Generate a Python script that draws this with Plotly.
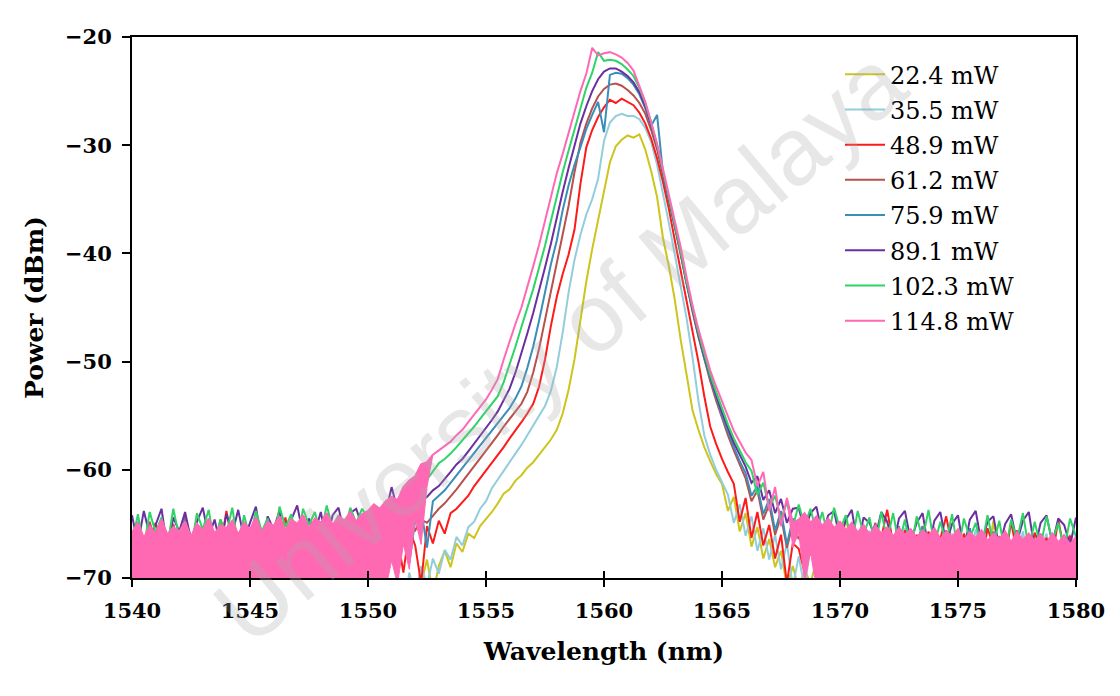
import plotly.graph_objects as go

# ---------------- data ----------------
X_RANGE = [1540, 1580]
Y_RANGE = [-70, -20]
X_TICKS = [1540, 1545, 1550, 1555, 1560, 1565, 1570, 1575, 1580]
Y_TICKS = [-70, -60, -50, -40, -30, -20]

STEP = 0.25            # nm between samples
LEFT_START = 1540.0    # left noise floor: 1540.00 .. 1549.75
CORE_START = 1550.0    # spectrum core:    1550.00 .. 1568.00
RIGHT_START = 1568.25  # right noise floor: 1568.25 .. 1580.00

LABELS = ["22.4 mW", "35.5 mW", "48.9 mW", "61.2 mW",
          "75.9 mW", "89.1 mW", "102.3 mW", "114.8 mW"]

# 22.4 mW
Y224_LEFT = [-71.8, -69.5, -72.6, -70.1, -68.8, -71.9, -69.7, -73.0,
             -70.4, -68.9, -72.2, -69.6, -71.0, -73.4, -69.9, -70.8,
             -72.5, -69.3, -71.6, -70.2, -73.1, -69.4, -71.3, -72.7,
             -69.8, -70.6, -72.9, -69.5, -71.7, -70.0, -73.3, -69.6,
             -71.2, -72.4, -69.9, -70.7, -73.0, -69.7, -71.5, -72.1]
Y224_CORE = [-73.0, -71.5, -74.0, -71.0,
             -73.5, -72.0, -74.2, -71.2,
             -72.8, -70.6, -68.3, -71.4,
             -68.9, -67.5, -69.0, -66.8,
             -67.6, -65.9, -66.3, -65.2,
             -64.6, -63.9, -63.1, -62.2,
             -61.8, -61.0, -60.5, -59.8,
             -59.3, -58.6, -58.0, -57.2,
             -56.3, -54.8, -52.6, -49.8,
             -46.2, -42.6, -39.6, -36.9,
             -34.0, -31.6, -30.1, -29.5,
             -29.1, -29.3, -29.0, -30.4,
             -32.4, -34.8, -38.6, -41.2,
             -44.3, -48.0, -51.2, -54.5,
             -56.3, -57.9, -59.2, -60.4,
             -61.3, -63.8, -62.5, -65.7,
             -64.0, -67.1, -65.3, -68.2,
             -66.4, -69.0, -67.5, -70.8,
             -68.9]
Y224_RIGHT = [-71.0, -69.2, -70.5, -68.4, -67.6, -69.8, -66.9, -68.7,
              -64.2, -67.9, -69.4, -67.2, -68.8, -66.7, -69.6, -67.4,
              -68.5, -66.9, -69.9, -67.6, -68.9, -67.0, -69.3, -67.8,
              -68.2, -66.8, -69.7, -67.3, -68.6, -67.1, -69.5, -66.6,
              -68.3, -64.7, -69.2, -67.5, -68.7, -66.9, -69.8, -67.2,
              -68.4, -67.0, -69.4, -67.7, -68.1, -66.8, -69.6, -67.4]

# 35.5 mW
Y355_LEFT = [-70.6, -68.2, -71.9, -68.9, -67.5, -70.8, -68.4, -72.0,
             -69.1, -67.8, -71.3, -68.6, -69.9, -72.4, -68.3, -69.6,
             -71.5, -67.9, -70.4, -69.0, -72.1, -68.1, -70.2, -71.6,
             -68.7, -69.4, -71.8, -68.0, -70.6, -69.2, -72.3, -68.5,
             -70.0, -71.4, -68.8, -69.7, -72.0, -68.4, -70.3, -71.1]
Y355_CORE = [-72.5, -70.8, -73.6, -70.4,
             -72.1, -69.8, -72.9, -69.5,
             -71.6, -68.9, -70.7, -68.2,
             -69.6, -67.4, -68.3, -66.2,
             -67.0, -65.3, -64.8, -63.6,
             -62.9, -61.7, -60.9, -60.1,
             -59.4, -58.6, -57.7, -56.8,
             -55.9, -55.0, -54.1, -52.7,
             -50.5, -47.3, -43.6, -40.6,
             -38.3, -36.4, -35.0, -33.1,
             -29.6, -27.9, -27.3, -27.1,
             -27.3, -27.3, -27.6, -28.4,
             -29.7, -31.8, -34.4, -37.2,
             -40.1, -43.0, -46.0, -49.6,
             -53.6, -56.8, -58.6, -60.0,
             -61.1, -62.3, -64.9, -63.2,
             -66.1, -64.3, -67.5, -65.4,
             -68.3, -66.0, -69.2, -66.8,
             -70.8]
Y355_RIGHT = [-68.0, -70.9, -67.1, -69.5, -66.6, -68.7, -65.9, -68.1,
              -66.8, -68.5, -66.2, -67.9, -65.6, -68.3, -66.5, -68.8,
              -66.0, -67.7, -65.4, -68.6, -66.7, -68.2, -65.8, -69.0,
              -66.3, -67.6, -65.9, -68.4, -66.9, -68.0, -65.5, -68.9,
              -66.4, -67.8, -66.1, -69.1, -66.6, -68.3, -65.7, -68.7,
              -66.2, -67.5, -65.9, -68.6, -66.8, -68.1, -66.0, -68.5]

# 48.9 mW
Y489_LEFT = [-67.9, -65.8, -68.7, -66.4, -64.9, -67.6, -66.1, -69.2,
             -65.5, -67.0, -68.4, -65.2, -66.8, -69.0, -65.9, -67.3,
             -63.8, -66.6, -68.5, -65.7, -67.2, -69.4, -66.0, -65.3,
             -68.1, -66.9, -64.4, -67.7, -69.1, -65.8, -66.7, -68.3,
             -65.1, -67.4, -69.6, -66.2, -65.0, -68.0, -66.5, -67.1]
Y489_CORE = [-67.8, -66.5, -68.9, -65.9,
             -67.6, -66.2, -69.5, -65.5,
             -67.0, -70.5, -65.2, -66.8,
             -64.7, -65.9, -64.0, -63.6,
             -63.0, -62.4, -61.5, -60.8,
             -60.0, -59.3, -58.6, -57.9,
             -57.1, -56.4, -55.6, -54.8,
             -53.9, -52.3, -49.8, -46.7,
             -44.0, -41.9, -40.1, -37.8,
             -33.6, -30.2, -28.6, -27.4,
             -26.5, -25.8, -26.1, -25.7,
             -26.0, -26.3, -27.0, -28.0,
             -29.4, -31.2, -33.4, -35.9,
             -38.8, -41.6, -44.3, -46.9,
             -50.0, -53.2, -56.0, -57.6,
             -59.0, -60.2, -61.3, -64.8,
             -62.6, -66.3, -63.9, -67.0,
             -65.1, -68.2, -66.0, -70.5,
             -66.8]
Y489_RIGHT = [-67.3, -69.5, -66.2, -68.6, -65.8, -67.9, -66.4, -68.8,
              -65.5, -67.4, -66.1, -68.2, -65.9, -67.6, -66.3, -63.7,
              -66.8, -68.1, -65.6, -67.5, -66.0, -68.4, -65.7, -67.8,
              -66.4, -64.3, -67.1, -68.6, -65.9, -67.3, -66.6, -68.9,
              -65.4, -67.0, -66.2, -68.3, -64.8, -67.7, -66.5, -68.7,
              -65.8, -67.2, -66.3, -68.0, -64.6, -67.5, -66.1, -68.4]

# 61.2 mW
Y612_LEFT = [-67.2, -65.4, -68.1, -64.8, -66.9, -65.7, -68.5, -65.0,
             -67.4, -64.3, -66.6, -65.9, -68.2, -65.1, -67.0, -64.6,
             -66.3, -65.8, -68.7, -65.3, -67.5, -64.9, -66.8, -65.6,
             -68.0, -65.2, -67.3, -64.7, -66.5, -66.0, -68.4, -65.4,
             -67.1, -64.5, -66.9, -65.7, -68.6, -65.0, -67.8, -65.5]
Y612_CORE = [-67.5, -65.9, -67.0, -65.6,
             -66.8, -65.2, -66.4, -64.9,
             -65.6, -64.6, -64.9, -64.2,
             -63.6, -63.1, -62.5, -61.8,
             -61.1, -60.4, -59.7, -59.0,
             -58.3, -57.5, -56.8, -56.0,
             -55.3, -54.6, -53.9, -52.8,
             -51.0, -48.8, -46.2, -43.6,
             -41.0, -38.5, -35.6, -32.5,
             -29.8, -28.0, -26.6, -25.5,
             -24.8, -24.4, -24.3, -24.5,
             -24.9, -25.4, -26.1, -27.1,
             -28.6, -30.4, -32.6, -35.0,
             -37.5, -40.1, -42.9, -45.4,
             -47.7, -49.8, -51.8, -53.6,
             -55.3, -56.8, -58.2, -59.5,
             -60.8, -62.9, -61.9, -64.6,
             -63.2, -66.0, -64.3, -67.2,
             -65.0]
Y612_RIGHT = [-66.4, -65.0, -67.9, -65.6, -66.8, -64.7, -68.2, -65.9,
              -67.1, -65.3, -68.6, -65.8, -66.7, -64.9, -68.0, -66.1,
              -67.4, -65.5, -68.8, -66.0, -67.0, -65.2, -68.4, -66.3,
              -67.6, -65.7, -69.0, -66.2, -67.2, -65.4, -68.5, -66.4,
              -67.8, -65.9, -69.1, -66.5, -67.3, -65.6, -68.7, -66.6,
              -67.9, -66.0, -69.2, -66.7, -67.5, -66.1, -68.9, -66.8]

# 75.9 mW
Y759_LEFT = [-66.5, -64.8, -67.3, -65.6, -68.0, -64.9, -66.7, -65.3,
             -67.9, -64.6, -66.2, -65.8, -68.3, -64.7, -66.9, -65.1,
             -67.5, -64.9, -66.4, -65.7, -68.1, -64.5, -66.6, -65.2,
             -67.7, -64.8, -66.0, -65.5, -68.4, -64.4, -66.3, -65.0,
             -67.6, -64.6, -66.8, -65.3, -69.0, -64.7, -67.9, -65.4]
Y759_CORE = [-66.0, -65.2, -66.5, -64.8,
             -65.9, -64.6, -65.4, -68.6,
             -64.7, -63.6, -67.2, -62.9,
             -62.4, -61.9, -61.2, -60.5,
             -59.9, -59.2, -58.5, -57.8,
             -57.1, -56.4, -55.7, -55.0,
             -54.3, -53.4, -52.3, -50.6,
             -48.6, -46.2, -43.5, -41.0,
             -38.8, -36.0, -33.7, -31.8,
             -30.2, -28.5, -27.2, -26.0,
             -28.8, -23.5, -23.3, -23.4,
             -23.8, -24.4, -25.3, -26.6,
             -28.2, -27.2, -32.6, -35.0,
             -37.4, -40.0, -42.8, -45.3,
             -47.6, -49.7, -51.6, -53.3,
             -55.0, -56.5, -57.9, -59.2,
             -60.3, -62.4, -61.5, -64.1,
             -62.7, -65.6, -63.8, -66.9,
             -64.5]
Y759_RIGHT = [-65.6, -64.5, -67.8, -65.0, -66.2, -64.8, -68.3, -65.4,
              -66.9, -64.9, -67.5, -65.8, -66.3, -65.1, -68.0, -65.5,
              -67.0, -65.2, -68.4, -65.9, -66.6, -65.3, -67.9, -66.0,
              -67.2, -65.6, -68.6, -66.1, -67.0, -65.4, -68.2, -65.9,
              -67.4, -65.7, -68.8, -66.2, -67.1, -65.8, -68.5, -66.3,
              -67.6, -65.9, -68.9, -66.4, -67.3, -66.0, -68.7, -66.5]

# 89.1 mW
Y891_LEFT = [-64.2, -66.9, -63.8, -66.0, -65.1, -63.6, -67.3, -64.4,
             -65.7, -63.9, -66.5, -64.8, -63.5, -66.2, -64.6, -67.0,
             -64.1, -65.9, -63.7, -66.4, -64.9, -63.4, -66.8, -64.3,
             -65.5, -63.8, -67.1, -64.6, -63.3, -66.0, -64.5, -65.8,
             -63.9, -66.7, -64.2, -63.5, -65.9, -64.0, -63.6, -65.2]
Y891_CORE = [-65.0, -64.3, -65.2, -64.0,
             -61.6, -63.7, -64.2, -63.4,
             -63.5, -62.8, -62.5, -61.9,
             -61.5, -60.9, -60.2, -59.5,
             -59.0, -58.3, -57.6, -56.9,
             -56.1, -55.4, -54.6, -53.6,
             -52.5, -51.0, -49.3, -47.4,
             -45.5, -43.5, -41.3, -39.1,
             -36.6, -34.3, -32.1, -30.0,
             -28.0, -26.4, -25.0, -23.9,
             -23.2, -22.9, -22.9, -23.2,
             -23.6, -24.2, -25.1, -26.4,
             -28.1, -30.1, -32.5, -34.9,
             -37.3, -39.9, -42.7, -45.2,
             -47.5, -49.5, -51.4, -53.1,
             -54.7, -56.1, -57.5, -58.6,
             -59.7, -61.2, -60.6, -62.8,
             -61.9, -64.0, -62.7, -64.9,
             -63.6]
Y891_RIGHT = [-63.5, -65.6, -64.0, -63.4, -66.0, -64.2, -63.8, -66.5,
              -64.6, -63.7, -67.0, -64.4, -64.9, -66.2, -63.9, -64.8,
              -67.1, -64.5, -63.8, -66.6, -64.9, -64.0, -67.3, -64.7,
              -63.9, -66.8, -65.0, -64.2, -67.5, -64.6, -63.8, -66.9,
              -64.8, -64.3, -67.2, -65.0, -64.1, -66.7, -64.7, -63.9,
              -67.4, -64.9, -64.2, -66.8, -64.5, -65.1, -67.0, -64.4]

# 102.3 mW
Y1023_LEFT = [-66.8, -64.1, -67.2, -63.9, -65.8, -64.4, -67.0, -63.6,
              -66.2, -64.8, -67.4, -64.0, -65.5, -63.7, -66.9, -64.6,
              -65.9, -63.5, -67.1, -64.2, -66.4, -63.8, -65.7, -64.5,
              -66.8, -63.4, -65.3, -64.1, -66.6, -63.6, -65.1, -63.9,
              -66.0, -63.3, -65.4, -64.2, -65.8, -63.5, -64.9, -63.6]
Y1023_CORE = [-64.5, -63.6, -64.2, -63.3,
              -63.9, -63.0, -62.8, -62.4,
              -61.9, -61.3, -60.9, -60.1,
              -59.4, -59.0, -58.5, -57.9,
              -57.3, -56.7, -56.0, -55.3,
              -54.6, -53.9, -53.2, -51.9,
              -50.3, -48.6, -46.8, -45.1,
              -43.3, -41.3, -39.3, -37.0,
              -34.6, -32.5, -30.5, -28.5,
              -26.5, -24.7, -23.3, -21.4,
              -22.2, -22.1, -22.2, -22.5,
              -23.0, -23.6, -24.7, -26.1,
              -27.9, -30.0, -32.4, -34.8,
              -37.2, -39.8, -42.6, -45.1,
              -47.3, -49.3, -51.2, -52.8,
              -54.4, -55.8, -57.1, -58.2,
              -59.3, -60.1, -62.3, -61.2,
              -63.5, -62.4, -64.6, -63.0,
              -65.3]
Y1023_RIGHT = [-63.2, -65.1, -63.6, -65.8, -63.9, -66.2, -63.5, -65.5,
               -64.2, -66.8, -63.8, -66.0, -64.4, -67.2, -63.9, -66.5,
               -64.0, -66.9, -64.6, -67.5, -64.3, -66.4, -63.7, -67.0,
               -64.8, -66.7, -64.1, -67.6, -64.5, -66.3, -64.9, -67.2,
               -64.2, -66.9, -64.7, -67.8, -64.6, -66.5, -64.0, -67.3,
               -64.8, -67.1, -64.3, -66.6, -64.9, -67.4, -64.5, -66.2]

# 114.8 mW
Y1148_LEFT = [-65.8, -64.9, -66.3, -65.2, -65.9, -64.6, -66.0, -65.3,
              -65.7, -64.8, -66.2, -65.0, -65.6, -64.5, -65.9, -65.1,
              -65.4, -64.7, -66.0, -64.9, -65.5, -64.4, -65.8, -64.8,
              -65.2, -64.3, -65.6, -64.6, -65.0, -64.2, -65.4, -64.5,
              -64.9, -64.0, -65.1, -64.3, -64.7, -63.9, -64.8, -64.1]
Y1148_CORE = [-63.8, -63.2, -63.6, -62.9,
              -62.5, -62.8, -61.6, -61.0,
              -60.6, -59.5, -59.3, -58.6,
              -58.2, -57.8, -57.4, -56.8,
              -56.3, -55.6, -54.9, -54.1,
              -53.5, -52.6, -51.6, -49.8,
              -48.1, -46.5, -45.0, -43.2,
              -41.2, -39.2, -37.0, -34.7,
              -32.6, -30.8, -28.9, -26.8,
              -25.0, -23.4, -21.0, -21.7,
              -21.5, -21.4, -21.6, -21.9,
              -22.4, -23.1, -24.5, -26.0,
              -27.9, -29.9, -32.2, -34.6,
              -36.9, -39.4, -42.2, -44.8,
              -47.0, -48.9, -50.8, -52.3,
              -53.7, -55.1, -56.4, -57.4,
              -58.4, -59.1, -61.5, -60.2,
              -63.8, -61.6, -65.2, -62.6,
              -64.9]
Y1148_RIGHT = [-64.6, -64.0, -64.9, -64.3, -65.2, -64.5, -65.4, -64.8,
               -65.6, -64.9, -65.8, -65.1, -66.0, -65.2, -65.9, -65.3,
               -66.2, -65.4, -66.0, -65.5, -66.3, -65.6, -66.1, -65.4,
               -66.4, -65.7, -66.2, -65.5, -66.5, -65.8, -66.3, -65.6,
               -66.6, -65.9, -66.4, -65.7, -66.7, -65.8, -66.5, -65.9,
               -66.6, -66.0, -66.8, -65.9, -66.7, -66.1, -66.9, -66.2]

# lower envelope of the densely sampled 114.8 mW noise floor
# (the trace fills the space between this and its upper envelope)
PINK_LOW_LEFT_X = [1540.0, 1550.75, 1551.0, 1551.25, 1551.5, 1551.75,
                   1552.0, 1552.25, 1552.5, 1552.75]
PINK_LOW_LEFT_Y = [-71.0, -71.0, -68.4, -70.6, -66.9, -69.2,
                   -64.6, -66.9, -61.6, -58.6]
PINK_LOW_RIGHT_X = [1567.75, 1568.0, 1568.25, 1568.5, 1568.75, 1569.0,
                    1569.25, 1580.0]
PINK_LOW_RIGHT_Y = [-62.6, -67.2, -65.8, -70.4, -67.6, -71.0,
                    -71.0, -71.0]

SERIES_LEFT = [Y224_LEFT, Y355_LEFT, Y489_LEFT, Y612_LEFT,
               Y759_LEFT, Y891_LEFT, Y1023_LEFT, Y1148_LEFT]
SERIES_CORE = [Y224_CORE, Y355_CORE, Y489_CORE, Y612_CORE,
               Y759_CORE, Y891_CORE, Y1023_CORE, Y1148_CORE]
SERIES_RIGHT = [Y224_RIGHT, Y355_RIGHT, Y489_RIGHT, Y612_RIGHT,
                Y759_RIGHT, Y891_RIGHT, Y1023_RIGHT, Y1148_RIGHT]

# ---------------- styles ----------------
COLORS = ["#CDC41C", "#92CDDC", "#FF1A1A", "#B8504B",
          "#3A8EB8", "#6A2FA0", "#2FD466", "#FF69B4"]
LINE_W = 2
SERIF = "DejaVu Serif"


def sample_x(start, n):
    return [round(start + STEP * i, 2) for i in range(n)]


def full_series(k):
    xs = (sample_x(LEFT_START, len(SERIES_LEFT[k]))
          + sample_x(CORE_START, len(SERIES_CORE[k]))
          + sample_x(RIGHT_START, len(SERIES_RIGHT[k])))
    ys = SERIES_LEFT[k] + SERIES_CORE[k] + SERIES_RIGHT[k]
    return xs, ys


fig = go.Figure()
last = len(LABELS) - 1
for k, name in enumerate(LABELS):
    xs, ys = full_series(k)
    on_top = (k == last)
    fig.add_trace(go.Scatter(
        x=xs, y=ys, mode="lines", name=name, legendgroup=name,
        line=dict(color=COLORS[k], width=LINE_W),
        xaxis="x2" if on_top else "x",
    ))

# dense noise floor of the strongest trace: band between its envelopes
xs, ys = full_series(last)
for low_x, low_y in ((PINK_LOW_LEFT_X, PINK_LOW_LEFT_Y),
                     (PINK_LOW_RIGHT_X, PINK_LOW_RIGHT_Y)):
    lo, hi = min(low_x), max(low_x)
    ux = [x for x in xs if lo <= x <= hi]
    uy = [y for x, y in zip(xs, ys) if lo <= x <= hi]
    fig.add_trace(go.Scatter(
        x=ux + low_x[::-1], y=uy + low_y[::-1],
        mode="lines", fill="toself", fillcolor=COLORS[last],
        line=dict(color=COLORS[last], width=1),
        showlegend=False, legendgroup=LABELS[last], hoverinfo="skip",
        xaxis="x2",
    ))

tick_font = dict(family=SERIF, size=21, color="black", weight="bold")
title_font = dict(family=SERIF, size=25, color="black", weight="bold")

fig.update_layout(
    width=1120, height=696,
    margin=dict(l=132, r=44, t=37, b=118),
    paper_bgcolor="white", plot_bgcolor="white",
    showlegend=True,
    legend=dict(
        x=0.750, y=0.972, xanchor="left", yanchor="top",
        bgcolor="rgba(0,0,0,0)", borderwidth=0,
        font=dict(family=SERIF, size=24, color="black"),
        traceorder="grouped", tracegroupgap=1,
        itemwidth=40,
    ),
    xaxis=dict(
        range=X_RANGE, tickmode="array", tickvals=X_TICKS,
        ticks="outside", ticklen=7, tickwidth=2, tickcolor="black",
        showline=True, linewidth=2, linecolor="black", mirror=True,
        showgrid=False, zeroline=False, tickfont=tick_font,
        ticklabelstandoff=6,
        title=dict(text="Wavelength (nm)", font=title_font, standoff=20),
        automargin=False,
    ),
    xaxis2=dict(
        range=X_RANGE, overlaying="x", anchor="y", side="bottom",
        tickmode="array", tickvals=X_TICKS,
        ticks="inside", ticklen=7, tickwidth=2, tickcolor="black",
        showticklabels=False, showline=False, showgrid=False,
        zeroline=False, automargin=False,
    ),
    yaxis=dict(
        range=Y_RANGE, tickmode="array", tickvals=Y_TICKS,
        ticks="outside", ticklen=8, tickwidth=2, tickcolor="black",
        showline=True, linewidth=2, linecolor="black", mirror=True,
        showgrid=False, zeroline=False, tickfont=tick_font,
        ticklabelstandoff=6,
        title=dict(text="Power (dBm)", font=title_font, standoff=14),
        automargin=False,
    ),
)

# faint diagonal watermark
fig.add_annotation(
    text="University of Malaya", xref="paper", yref="paper",
    x=0.453, y=0.43, showarrow=False, textangle=-40,
    font=dict(family="Liberation Sans", size=96,
              color="rgba(170,170,170,0.28)"),
)

fig.write_html("out.html")
